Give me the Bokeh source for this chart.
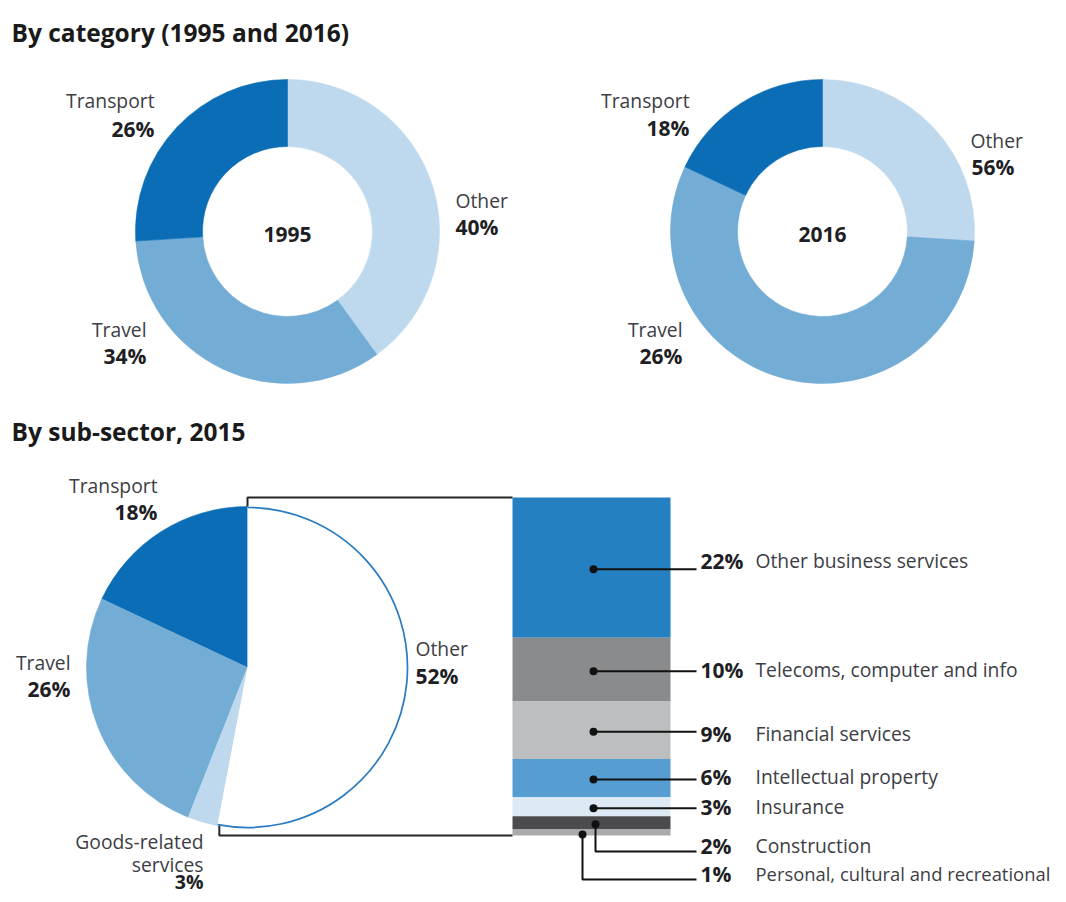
import numpy as np
from bokeh.plotting import figure
from bokeh.models import Range1d, ColumnDataSource
from bokeh.core.properties import value
from bokeh.embed import file_html
from bokeh.resources import INLINE

# ---------------- data ----------------
cat_names = ["Other", "Travel", "Transport"]
share_1995 = [40, 34, 26]
arc_2016 = [26, 56, 18]        # arc sizes as drawn in the source chart
label_2016 = [56, 26, 18]      # percentages printed in the source chart

sub_names = ["Transport", "Travel", "Goods-related services", "Other"]
sub_share = [18, 26, 3, 52]

other_names = ["Other business services", "Telecoms, computer and info",
               "Financial services", "Intellectual property", "Insurance",
               "Construction", "Personal, cultural and recreational"]
other_share = [22, 10, 9, 6, 3, 2, 1]

# ---------------- styles ----------------
FONT = value("Open Sans")
C_TRANSPORT = "#0b6db5"
C_TRAVEL = "#73acd5"
C_OTHER = "#bed9ed"
cat_colors = [C_OTHER, C_TRAVEL, C_TRANSPORT]
sub_colors = [C_TRANSPORT, C_TRAVEL, C_OTHER]
bar_colors = ["#2580c1", "#8a8b8c", "#bdbec0", "#569dd2", "#dde9f4", "#4b4b4d", "#a9aaac"]
NAME_COL = "#3d3d44"
PCT_COL = "#1e1e24"
NAME_SIZE = "19.3px"
PCT_SIZE = "21px"

W, H = 1058, 894
p = figure(width=W, height=H, output_backend="svg", toolbar_location=None,
           x_range=Range1d(0, W), y_range=Range1d(-H, 0),
           x_axis_location=None, y_axis_location=None, min_border=0)
p.grid.visible = False
p.outline_line_color = None
p.background_fill_color = "white"


def Y(v):
    return -np.asarray(v, dtype=float)


def txt(x, y, s, align="left", bold=False, size=None, color=None):
    size = size or (PCT_SIZE if bold else NAME_SIZE)
    p.text(x=[x], y=[-y], text=[s], text_font=FONT, text_font_size=value(size),
           text_font_style="bold" if bold else "normal",
           text_color=color or (PCT_COL if bold else NAME_COL),
           text_align=align, text_baseline="middle")


def donut(cx, cy, shares, colors, r_in=85, r_out=152):
    cum = np.cumsum([0] + list(shares)) / 100.0
    end = np.deg2rad(90 - 360 * cum[:-1])
    start = np.deg2rad(90 - 360 * cum[1:])
    n = len(shares)
    src = ColumnDataSource(dict(x=[cx] * n, y=[-cy] * n, s=start, e=end, c=colors))
    p.annular_wedge(x="x", y="y", inner_radius=r_in, outer_radius=r_out,
                    start_angle="s", end_angle="e", fill_color="c",
                    line_color="c", line_width=0.6, source=src)


# ---------------- titles ----------------
txt(11, 32, "By category (1995 and 2016)", bold=True, size="24.5px", color="#1a1a1a")
txt(11, 431, "By sub-sector, 2015", bold=True, size="24.5px", color="#1a1a1a")

# ---------------- donut 1995 ----------------
donut(287, 231, share_1995, cat_colors)
txt(287, 234, "1995", align="center", bold=True)
txt(154, 100, "Transport", align="right")
txt(154, 128, f"{share_1995[2]}%", align="right", bold=True)
txt(455, 200, "Other")
txt(455, 226, f"{share_1995[0]}%", bold=True)
txt(146, 329, "Travel", align="right")
txt(146, 355, f"{share_1995[1]}%", align="right", bold=True)

# ---------------- donut 2016 ----------------
donut(822, 231, arc_2016, cat_colors)
txt(822, 234, "2016", align="center", bold=True)
txt(689, 100, "Transport", align="right")
txt(689, 127, f"{label_2016[2]}%", align="right", bold=True)
txt(970, 140, "Other")
txt(971, 166, f"{label_2016[0]}%", bold=True)
txt(682, 329, "Travel", align="right")
txt(682, 355, f"{label_2016[1]}%", align="right", bold=True)

# ---------------- pie 2015 ----------------
PCX, PCY, PR = 247, 667, 161
cum = np.cumsum([0] + sub_share[:3]) / 100.0
ws = np.deg2rad(90 + 360 * cum[:-1])
we = np.deg2rad(90 + 360 * cum[1:])
src = ColumnDataSource(dict(x=[PCX] * 3, y=[-PCY] * 3, s=ws, e=we, c=sub_colors))
p.wedge(x="x", y="y", radius=PR, start_angle="s", end_angle="e",
        fill_color="c", line_color="c", line_width=0.6, source=src)
o_start = we[-1]
o_end = np.deg2rad(90 + 360)
p.wedge(x=[PCX], y=[-PCY], radius=PR, start_angle=[o_start], end_angle=[o_end],
        fill_color="white", line_color=None)
p.arc(x=[PCX], y=[-PCY], radius=PR - 1, start_angle=[o_start], end_angle=[o_end],
      line_color="#2a7bc1", line_width=1.7)

txt(157, 485, "Transport", align="right")
txt(157, 511, f"{sub_share[0]}%", align="right", bold=True)
txt(70, 662, "Travel", align="right")
txt(70, 688, f"{sub_share[1]}%", align="right", bold=True)
txt(415, 648, "Other")
txt(415, 675, f"{sub_share[3]}%", bold=True)
txt(203, 841, "Goods-related", align="right")
txt(203, 864, "services", align="right")
txt(203, 881, f"{sub_share[2]}%", align="right", bold=True, size="19.5px")

# ---------------- stacked bar of "Other" ----------------
BL, BR, BT, BB = 512, 670, 497, 835
k = (BB - BT) / sum(other_share)
bc = np.cumsum([0] + other_share)
tops = BT + bc[:-1] * k
bots = BT + bc[1:] * k
p.quad(left=[BL] * 7, right=[BR] * 7, top=list(Y(tops)), bottom=list(Y(bots)),
       fill_color=bar_colors, line_color=None)

# bracket linking pie "Other" to the bar
top_pt = (PCX + PR * np.cos(np.deg2rad(90)), PCY - PR * np.sin(np.deg2rad(90)))
bot_pt = (PCX + PR * np.cos(o_start), PCY - PR * np.sin(o_start))
p.line(x=[top_pt[0], top_pt[0], BL], y=list(Y([top_pt[1], BT, BT])),
       line_color="#262626", line_width=2)
p.line(x=[bot_pt[0] + 2, bot_pt[0] + 2, BL], y=list(Y([bot_pt[1], BB, BB])),
       line_color="#262626", line_width=2)

# leaders and labels
mids = (tops + bots) / 2 + 1.5
label_y = [560, 669, 733, 776, 806, 845, 873]
LX_END = 696
dot_x = [593, 593, 593, 593, 593, 595, 582]
dot_y = list(mids)
dot_y[6] = BB - 1
xs, ys = [], []
for i in range(7):
    if i < 5:
        xs.append([dot_x[i], LX_END])
        ys.append(list(Y([dot_y[i], dot_y[i]])))
    else:
        yy = label_y[i] + 6
        xs.append([dot_x[i], dot_x[i], LX_END])
        ys.append(list(Y([dot_y[i], yy, yy])))
p.multi_line(xs=xs, ys=ys, line_color="#111111", line_width=2)
p.scatter(x=dot_x, y=list(Y(dot_y)), size=8, fill_color="#111111", line_color=None)

for i in range(7):
    txt(700, label_y[i], f"{other_share[i]}%", bold=True)
    name_size = "18.4px" if i == 6 else NAME_SIZE
    txt(755, label_y[i], other_names[i], size=name_size)

open("out.html", "w").write(file_html(p, INLINE))
